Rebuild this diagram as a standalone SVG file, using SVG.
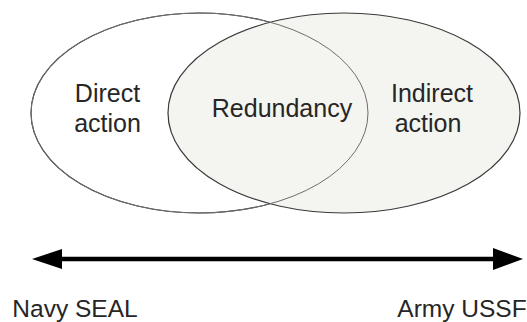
<svg xmlns="http://www.w3.org/2000/svg" width="527" height="322" viewBox="0 0 527 322">
<style>
.lbl{font-family:"Liberation Sans",Arial,sans-serif;font-size:25px;fill:#262626;text-anchor:middle}
.ell{stroke:#3a3a3a;stroke-width:1.2}
</style>
<rect width="527" height="322" fill="#ffffff"/>
<g id="direct">
<ellipse class="ell" cx="199.5" cy="113" rx="168.5" ry="100" fill="#ffffff"/>
</g>
<g id="indirect">
<ellipse class="ell" cx="344" cy="113" rx="176" ry="100" fill="#f4f4f0"/>
</g>
<g id="overlap">
<ellipse cx="199.5" cy="113" rx="168.5" ry="100" fill="none" stroke="#6e6e6e" stroke-width="1"/>
</g>
<g id="labels">
<text class="lbl" x="107.5" y="102">Direct</text>
<text class="lbl" x="107.5" y="132">action</text>
<text class="lbl" x="282" y="117">Redundancy</text>
<text class="lbl" x="432" y="102">Indirect</text>
<text class="lbl" x="428" y="132">action</text>
</g>
<g id="connectors">
<line x1="60" y1="259" x2="495" y2="259" stroke="#000" stroke-width="4.5"/>
<polygon points="32,259 62,249 62,269" fill="#000"/>
<polygon points="523,259 493,248 493,270" fill="#000"/>
</g>
<g id="navy"><text class="lbl" x="75" y="317" style="font-size:24.5px">Navy SEAL</text></g>
<g id="army"><text class="lbl" x="462" y="317" style="font-size:24.5px">Army USSF</text></g>
</svg>
